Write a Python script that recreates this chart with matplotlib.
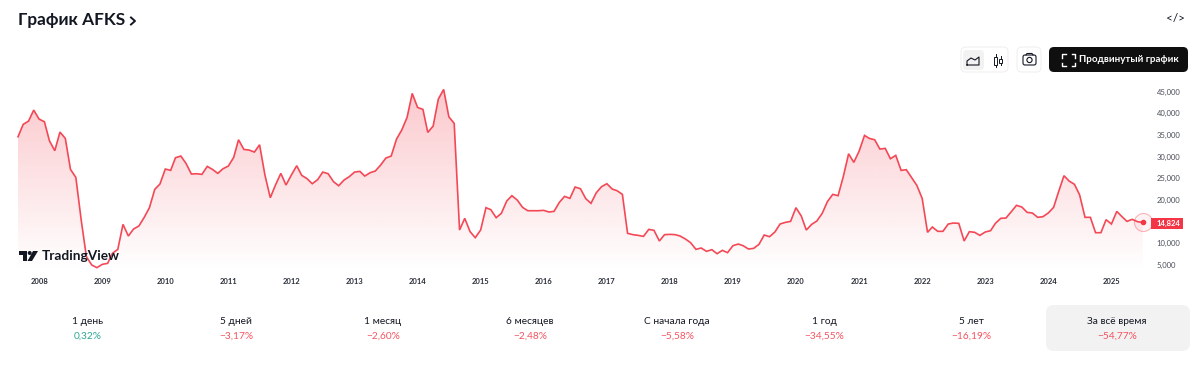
import numpy as np
import pandas as pd
import matplotlib.pyplot as plt
import matplotlib.dates as mdates
from matplotlib.patches import FancyBboxPatch, Polygon, Rectangle, Circle

plt.rcParams["font.family"] = ["Lato", "DejaVu Sans"]

#%%
values = [
    34600, 37450, 38220, 40760, 38680, 38070, 33680, 31380, 35680, 34220, 27070, 25220,
    15380, 6920, 5000, 4385, 5150, 5380, 7690, 8610, 14380, 11690, 13300, 14000,
    16000, 18230, 22460, 23690, 27150, 26840, 29760, 30150, 28450, 26000, 26070, 25920,
    27760, 27070, 26150, 27220, 27840, 29840, 33910, 31680, 31530, 31070, 32760, 25760,
    20530, 23460, 26150, 23460, 25760, 27920, 25690, 24920, 23760, 24690, 26450, 26070,
    24230, 23300, 24610, 25380, 26450, 26610, 25530, 26300, 26690, 28070, 29680, 30150,
    34070, 36140, 39070, 44600, 41370, 40910, 35610, 37070, 43300, 45530, 39220, 37680,
    13070, 15770, 12690, 11310, 13070, 18230, 17770, 15920, 16920, 19760, 21000, 20000,
    18300, 17530, 17530, 17530, 17610, 17230, 17380, 19460, 20840, 20380, 23000, 22610,
    20300, 19230, 21690, 23070, 23760, 22530, 22150, 21300, 12310, 12000, 11840, 11610,
    13230, 13000, 10540, 12000, 12070, 12000, 11690, 11000, 10150, 8610, 8920, 8150,
    8540, 7610, 8380, 7850, 9460, 9840, 9460, 8690, 8840, 9770, 11920, 11540,
    12610, 14460, 14840, 15070, 18230, 16300, 13070, 14380, 15150, 16920, 19610, 21300,
    21000, 25380, 30680, 28690, 31300, 34910, 34220, 33910, 31760, 31920, 29530, 30300,
    26840, 27000, 25150, 23380, 20380, 12540, 13770, 12770, 12770, 14460, 14690, 14610,
    10540, 12690, 12540, 11840, 12610, 12920, 14610, 15770, 15840, 17300, 18770, 18380,
    17150, 17000, 16000, 16150, 17000, 18300, 21920, 25610, 24380, 23610, 21150, 16000,
    16000, 12460, 12460, 15460, 14460, 17380, 16230, 15070, 15540, 15000, 14824,
]
years = list(range(2008, 2026))
# 15,000 is hidden by the last price tag in the reference
price_ticks = [5000, 10000, 20000, 25000, 30000, 35000, 40000, 45000]
periods = ["1 день", "5 дней", "1 месяц", "6 месяцев", "С начала года", "1 год", "5 лет", "За всё время"]
changes = ["0,32%", "−3,17%", "−2,60%", "−2,48%", "−5,58%", "−34,55%", "−16,19%", "−54,77%"]

RED = "#f23645"
GREEN = "#089981"
TEXT = "#131722"
W, H = 1200, 367

dates = pd.date_range("2007-09-01", periods=len(values), freq="MS")

#%%
fig = plt.figure(figsize=(12, 3.67), dpi=100, facecolor="w")

# price scale: 45,000 sits at y=91.7px and 5,000 at y=265px
px_per_val = (265 - 91.7) / 40000
top_px, bot_px = 85, 270
left_px, right_px = 18, 1142.7
ax = fig.add_axes([left_px / W, 1 - bot_px / H, (right_px - left_px) / W, (bot_px - top_px) / H])
ax.set_facecolor("none")
ymin = 5000 - (bot_px - 265) / px_per_val
ymax = 5000 + (265 - top_px) / px_per_val

line, = ax.plot(dates, values, color=RED, lw=1.2, alpha=0.9, solid_joinstyle="miter", zorder=3, clip_on=False)

# gradient under the line
grad = np.zeros((256, 1, 4))
grad[:, 0, 0], grad[:, 0, 1], grad[:, 0, 2] = 242 / 255, 54 / 255, 69 / 255
grad[:, 0, 3] = np.linspace(0.28, 0.0, 256)
x0, x1 = mdates.date2num(dates[0]), mdates.date2num(dates[-1])
im = ax.imshow(grad, extent=[x0, x1, ymin, ymax], aspect="auto", origin="upper", zorder=1)
xs = mdates.date2num(dates)
poly = Polygon(np.column_stack([np.r_[xs, x1, x0], np.r_[values, ymin, ymin]]), closed=True,
               transform=ax.transData, fc="none", ec="none")
ax.add_patch(poly)
im.set_clip_path(poly)

ax.set_xlim(x0, x1)
ax.set_ylim(ymin, ymax)
ax.xaxis_date()
ax.set_xticks([mdates.date2num(pd.Timestamp(y, 1, 1)) for y in years])
ax.set_xticklabels([str(y) for y in years], fontsize=5.5, color="#2a2e39", fontweight="bold")
ax.yaxis.tick_right()
ax.set_yticks(price_ticks)
ax.set_yticklabels(["{:,}".format(p) for p in price_ticks], fontsize=5.5, color="#4a4e59")
ax.tick_params(axis="x", length=0, pad=6)
ax.tick_params(axis="y", length=0, pad=10)
for s in ax.spines.values():
    s.set_visible(False)

# last price marker
ax.plot(dates[-1], values[-1], "o", ms=3, color=RED, zorder=5, clip_on=False)
ax.plot(dates[-1], values[-1], "o", ms=13, mfc=(242 / 255, 54 / 255, 69 / 255, 0.06),
        mec=(242 / 255, 54 / 255, 69 / 255, 0.35), mew=0.8, zorder=4, clip_on=False)

#%%
# page furniture in pixel coordinates
ui = fig.add_axes([0, 0, 1, 1], zorder=5)
ui.set_xlim(0, W)
ui.set_ylim(H, 0)
ui.axis("off")
ui.patch.set_alpha(0)


def rbox(x0, y0, x1, y1, r, fc, ec="none", lw=0.8):
    ui.add_patch(FancyBboxPatch((x0 + r, y0 + r), x1 - x0 - 2 * r, y1 - y0 - 2 * r,
                                boxstyle="round,pad={},rounding_size={}".format(r, r),
                                fc=fc, ec=ec, lw=lw))


# last price tag
ui.add_patch(Rectangle((1151, 217.5), 32, 11.5, fc=RED, ec="none"))
ui.text(1157, 223, "{:,}".format(values[-1]), fontsize=5.5, fontweight="bold", color="w", va="center", ha="left")

ui.text(18, 20.5, "График AFKS", fontsize=12.4, fontweight="bold", color=TEXT, va="center", ha="left")
ui.plot([131, 135, 131], [17.5, 21, 24.5], color=TEXT, lw=1.4)

# embed icon
ui.text(1175.5, 19, "</>", fontsize=8.5, color=TEXT, va="center", ha="center")

# area/candle toggle
rbox(961, 47, 1008, 72, 5, "w", "#f0f0f0")
rbox(963, 50, 984, 70, 4, "#f2f2f2")
ui.plot([967, 967, 971, 975, 979, 979, 967], [65, 61, 58, 60, 57, 65, 65], color=TEXT, lw=0.8)
for cx, t, b in [(995.5, 54, 67), (1000.5, 56, 65)]:
    ui.plot([cx, cx], [t, b], color=TEXT, lw=0.7)
    ui.add_patch(Rectangle((cx - 1.3, t + 2.5), 2.6, b - t - 5, fc="w", ec=TEXT, lw=0.7, zorder=3))

# camera
rbox(1017, 47, 1041, 72, 5, "w", "#f0f0f0")
rbox(1023, 55, 1036, 65, 2, "none", TEXT, 0.8)
ui.add_patch(Circle((1029.5, 60), 2.6, fc="none", ec=TEXT, lw=0.8))
ui.plot([1026, 1027, 1032, 1033], [55, 53.5, 53.5, 55], color=TEXT, lw=0.8)

# advanced chart button
rbox(1049, 47, 1188, 72, 5, "#0f0f0f")
for sx, sy in [(1062, 54), (1075, 54), (1062, 66), (1075, 66)]:
    dx = 3.5 if sx == 1062 else -3.5
    dy = 3.5 if sy == 54 else -3.5
    ui.plot([sx + dx, sx, sx], [sy, sy, sy + dy], color="w", lw=1)
ui.text(1079, 60, "Продвинутый график", fontsize=7.05, fontweight="bold", color="w", va="center", ha="left")

# TradingView mark
ui.add_patch(Polygon([(19, 251), (27, 251), (27, 261), (23, 261), (23, 255), (19, 255)], fc="#131722", ec="none"))
ui.add_patch(Circle((29.7, 253), 2, fc="#131722", ec="none"))
ui.add_patch(Polygon([(33, 251), (38, 251), (32, 261), (27.5, 261)], fc="#131722", ec="none"))
ui.text(42, 256.5, "TradingView", fontsize=9.8, fontweight="bold", color="#131722", va="center", ha="left")

# period table
rbox(1046, 305, 1190, 351, 8, "#f2f2f2")
centers = [88, 236, 383, 530, 677, 824, 971, 1117]
for c, p, v in zip(centers, periods, changes):
    ui.text(c, 321, p, fontsize=7.3, color=TEXT, va="center", ha="center")
    ui.text(c, 336, v, fontsize=7.3, color=GREEN if not v.startswith("−") else RED, alpha=0.85, va="center", ha="center")

fig.savefig("out.png", dpi=100, facecolor="w")
